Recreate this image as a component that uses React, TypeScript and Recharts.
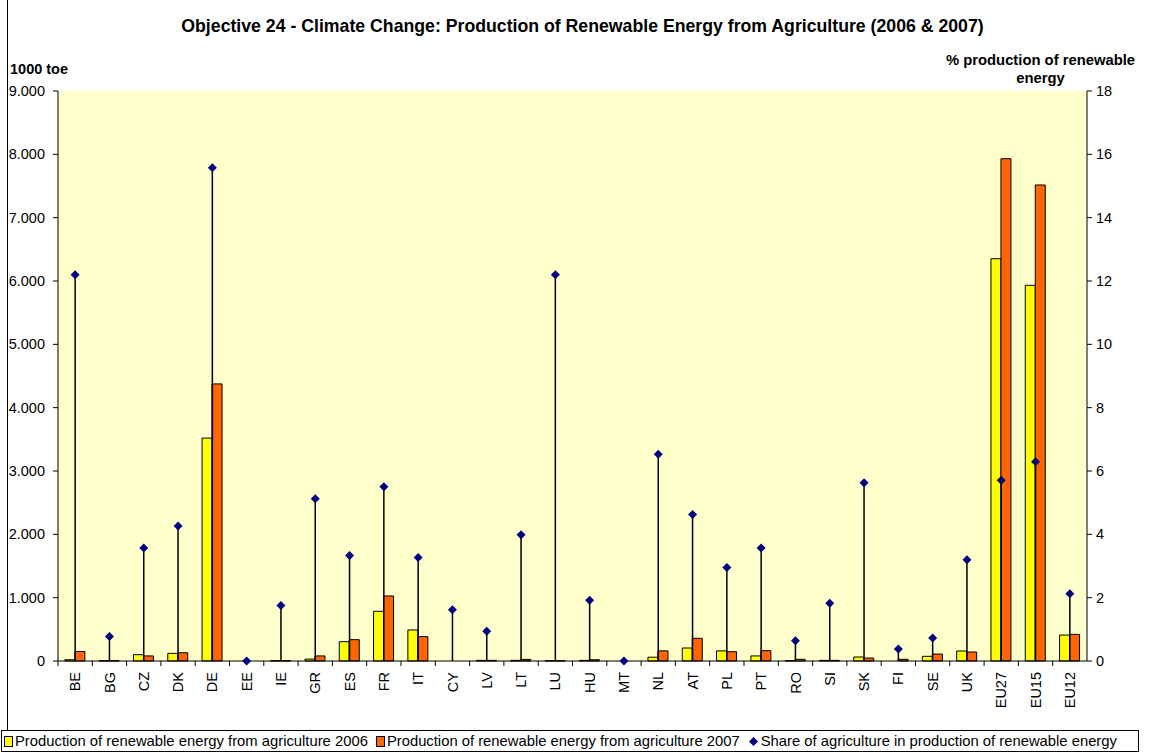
import React from 'react'
import {
  ComposedChart, Bar, Line, XAxis, YAxis, CartesianGrid, ErrorBar,
} from 'recharts'

// countries and EU aggregates
const countries = [
  'BE', 'BG', 'CZ', 'DK', 'DE', 'EE', 'IE', 'GR', 'ES', 'FR',
  'IT', 'CY', 'LV', 'LT', 'LU', 'HU', 'MT', 'NL', 'AT', 'PL',
  'PT', 'RO', 'SI', 'SK', 'FI', 'SE', 'UK', 'EU27', 'EU15', 'EU12',
]

// 1000 toe
const prod2006 = [
  20, 5, 100, 120, 3520, 0, 5, 30, 305, 785,
  490, 0, 10, 10, 5, 10, 0, 60, 205, 160,
  80, 5, 10, 63, 0, 74, 158, 6352, 5932, 410,
]
const prod2007 = [
  150, 5, 80, 130, 4375, 0, 5, 80, 337, 1027,
  385, 0, 10, 25, 5, 20, 0, 160, 358, 147,
  163, 27, 10, 47, 27, 110, 142, 7931, 7516, 420,
]

// % share of agriculture in renewable energy production
const share = [
  12.2, 0.77, 3.57, 4.26, 15.58, 0, 1.75, 5.12, 3.33, 5.5,
  3.27, 1.62, 0.94, 3.99, 12.2, 1.92, 0, 6.53, 4.63, 2.95,
  3.57, 0.64, 1.82, 5.63, 0.38, 0.73, 3.2, 5.71, 6.29, 2.12,
]

const leftTicks = [0, 1000, 2000, 3000, 4000, 5000, 6000, 7000, 8000, 9000]
const rightTicks = [0, 2, 4, 6, 8, 10, 12, 14, 16, 18]

const FONT = '"Liberation Sans", Arial, sans-serif'

const chartData = countries.map((c, i) => ({
  name: c,
  p2006: prod2006[i],
  p2007: prod2007[i],
  share: share[i],
  drop: [share[i], 0],
}))

// 9000 -> "9.000"
function fmtThousands(v: number) {
  if (v === 0) return '0'
  return v.toLocaleString('de-DE')
}

function XTick(props: any) {
  const { x, y, payload } = props
  const half = payload?.offset ?? 17
  return (
    <g>
      <line x1={x - half} y1={y - 8} x2={x - half} y2={y - 3} stroke="#000" />
      <text
        x={x}
        y={y + 3}
        transform={`rotate(-90, ${x}, ${y + 3})`}
        textAnchor="end"
        dy="0.35em"
        fontSize={14.5}
        fontFamily={FONT}
        fill="#000"
      >
        {payload.value}
      </text>
    </g>
  )
}

function Diamond(props: any) {
  const { cx, cy, index } = props
  if (cx == null || cy == null) return <g key={index} />
  const r = 4.5
  return (
    <path
      key={index}
      d={`M${cx},${cy - r}L${cx + r},${cy}L${cx},${cy + r}L${cx - r},${cy}Z`}
      fill="#000080"
    />
  )
}

function LegendBox() {
  const item = { display: 'flex', alignItems: 'center' } as const
  const sq = (color: string) => ({
    width: 7, height: 9, background: color, border: '1px solid #000', marginRight: 2,
  })
  return (
    <div style={{
      position: 'absolute', left: 1, top: 730, width: 1138, height: 22,
      border: '1px solid #000', background: '#fff', display: 'flex', alignItems: 'center',
      fontFamily: FONT, fontSize: 14.8, color: '#000', paddingLeft: 2, boxSizing: 'border-box',
      whiteSpace: 'nowrap',
    }}>
      <div style={item}><span style={sq('#FFFF00')} />Production of renewable energy from agriculture 2006</div>
      <div style={{ ...item, marginLeft: 8 }}><span style={sq('#FF6600')} />Production of renewable energy from agriculture 2007</div>
      <div style={{ ...item, marginLeft: 9 }}>
        <svg width={9} height={9} style={{ marginRight: 3 }}><path d="M4.5,0L9,4.5L4.5,9L0,4.5Z" fill="#000080" /></svg>
        Share of agriculture in production of renewable energy
      </div>
    </div>
  )
}

export default function App() {
  return (
    <div style={{
      position: 'absolute', left: 0, top: 0, width: 1151, height: 754,
      background: '#fff', fontFamily: FONT, overflow: 'hidden',
    }}>
      <div style={{ position: 'absolute', left: 7, top: 0, width: 1, height: 730, background: '#000' }} />
      <div style={{
        position: 'absolute', left: 0, top: 16, width: 1165, textAlign: 'center',
        fontWeight: 'bold', fontSize: 17.7, fontFamily: FONT,
      }}>
        Objective 24 - Climate Change: Production of Renewable Energy from Agriculture (2006 &amp; 2007)
      </div>
      <div style={{ position: 'absolute', left: 10, top: 61, fontWeight: 'bold', fontSize: 14.5 }}>1000 toe</div>
      <div style={{
        position: 'absolute', left: 930, width: 221, top: 51, textAlign: 'center',
        fontWeight: 'bold', fontSize: 14.8, lineHeight: '18px',
      }}>
        % production of renewable<br />energy
      </div>
      <div style={{ position: 'absolute', left: 0, top: 0 }}>
        <ComposedChart
          width={1151}
          height={730}
          data={chartData}
          margin={{ top: 91, right: 14, bottom: 9, left: 8 }}
          barCategoryGap="20%"
          barGap={0}
        >
          <CartesianGrid fill="#FFFFCC" horizontal={false} vertical={false} />
          <XAxis
            dataKey="name"
            interval={0}
            height={60}
            tickLine={false}
            axisLine={{ stroke: '#000' }}
            tick={<XTick />}
          />
          <XAxis
            xAxisId="top"
            orientation="top"
            dataKey="name"
            height={0}
            tick={false}
            tickLine={false}
            axisLine={{ stroke: '#808080' }}
          />
          <YAxis
            yAxisId="left"
            domain={[0, 9000]}
            ticks={leftTicks}
            interval={0}
            width={50}
            tickSize={5}
            tickMargin={8}
            tickFormatter={fmtThousands}
            tick={{ fill: '#000', fontSize: 14.5, fontFamily: FONT }}
            axisLine={{ stroke: '#000' }}
            tickLine={{ stroke: '#000' }}
          />
          <YAxis
            yAxisId="right"
            orientation="right"
            domain={[0, 18]}
            ticks={rightTicks}
            interval={0}
            width={50}
            tickSize={5}
            tickMargin={4}
            tick={{ fill: '#000', fontSize: 14.5, fontFamily: FONT }}
            axisLine={{ stroke: '#000' }}
            tickLine={{ stroke: '#000' }}
          />
          <Bar yAxisId="left" dataKey="p2006" fill="#FFFF00" stroke="#000" strokeWidth={1} isAnimationActive={false} />
          <Bar yAxisId="left" dataKey="p2007" fill="#FF6600" stroke="#000" strokeWidth={1} isAnimationActive={false} />
          <Line
            yAxisId="right"
            dataKey="share"
            stroke="none"
            dot={<Diamond />}
            activeDot={false}
            isAnimationActive={false}
          >
            <ErrorBar dataKey="drop" width={0} stroke="#000" strokeWidth={1.5} direction="y" />
          </Line>
        </ComposedChart>
      </div>
      <LegendBox />
    </div>
  )
}
